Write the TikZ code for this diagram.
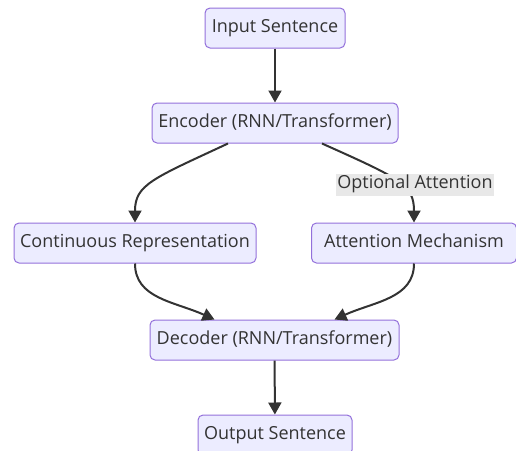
\documentclass[tikz,border=0pt]{standalone}
\usepackage{fontspec}
\setmainfont{Open Sans}
\usetikzlibrary{arrows.meta}
\definecolor{boxfill}{HTML}{ECECFF}
\definecolor{boxline}{HTML}{9370DB}
\definecolor{edgecol}{HTML}{333333}
\definecolor{textcol}{HTML}{333333}
\definecolor{labelbg}{HTML}{E8E8E8}
\tikzset{
  stage/.style={draw=boxline, fill=boxfill, line width=1pt, rounded corners=5pt,
    minimum height=40pt, inner sep=0pt, text=textcol,
    text height=13pt, text depth=4pt,
    font=\fontsize{18}{21}\selectfont},
  flow/.style={draw=edgecol, line width=2pt,
    -{Triangle[length=12pt,width=13pt]}},
  edgelabel/.style={fill=labelbg, text=textcol, inner xsep=1pt, inner ysep=0pt,
    text height=15pt, text depth=7pt,
    font=\fontsize{18}{21}\selectfont}
}
\begin{document}
\begin{tikzpicture}[x=1pt,y=-1pt]
\useasboundingbox (0,0) rectangle (516,450);

\node[stage, minimum width=140pt] (in)   at (275,28)  {Input Sentence};
\node[stage, minimum width=246pt] (enc)  at (275,123) {Encoder (RNN/Transformer)};
\node[stage, minimum width=242pt] (cont) at (135,243) {Continuous Representation};
\node[stage, minimum width=205pt] (att)  at (414,243) {Attention Mechanism};
\node[stage, minimum width=249pt] (dec)  at (274.5,340) {Decoder (RNN/Transformer)};
\node[stage, minimum width=154pt] (out)  at (275,435) {Output Sentence};

\draw[flow] (in) -- (enc);
\draw[flow] ([xshift=-47pt]enc.south) .. controls +(-75,35) and +(0,-38) .. (cont.north);
\draw[flow] ([xshift=47pt]enc.south) .. controls +(78,35) and +(0,-38) .. (att.north);
\node[edgelabel] (optlbl) at (415,184.5) {Optional Attention};
\draw[flow] (cont.south) .. controls +(0,35) and +(-40,-18) .. ([xshift=-60pt]dec.north);
\draw[flow] (att.south) .. controls +(0,35) and +(40,-18) .. ([xshift=60pt]dec.north);
\draw[flow] (dec) -- (out);
\end{tikzpicture}
\end{document}
